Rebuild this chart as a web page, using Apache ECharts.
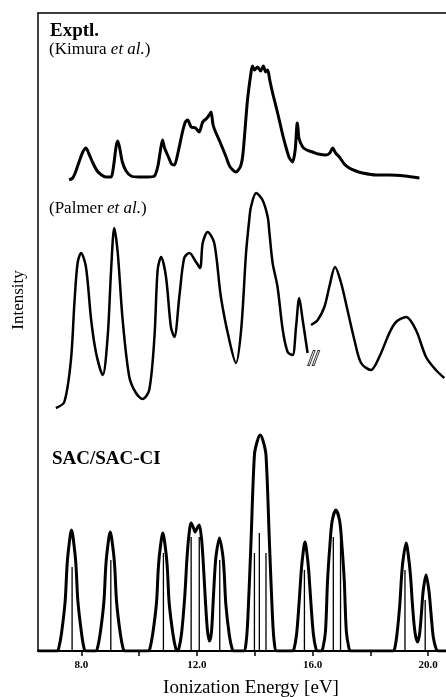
<!DOCTYPE html>
<html><head><meta charset="utf-8">
<script src="https://cdn.jsdelivr.net/npm/echarts@6/dist/echarts.min.js"></script>
<style>html,body{margin:0;padding:0;background:#fff}#c{width:446px;height:697px}</style>
</head><body><div id="c"></div>
<script>
// Ionization energy (eV) vs intensity (arbitrary units)
const kimura = [[7.58,0],[7.70,2],[7.80,8],[7.92,18],[8.05,28],[8.16,32],[8.25,27],[8.40,17],[8.55,9],[8.70,5],[8.85,3],[9.03,3],[9.12,15],[9.20,33],[9.26,39],[9.32,33],[9.42,18],[9.55,9],[9.72,4],[10.0,3],[10.30,3],[10.53,4],[10.65,14],[10.75,32],[10.81,40],[10.88,32],[11.00,24],[11.12,16],[11.22,15],[11.35,28],[11.50,48],[11.60,58],[11.68,60],[11.80,53],[11.95,52],[12.08,48],[12.20,58],[12.35,62],[12.45,66],[12.49,68],[12.56,55],[12.66,47],[12.80,38],[13.01,23],[13.15,13],[13.35,8],[13.50,13],[13.58,23],[13.65,45],[13.75,80],[13.87,107],[13.92,114],[13.99,110],[14.10,113],[14.20,109],[14.30,114],[14.38,108],[14.45,110],[14.52,100],[14.62,87],[14.75,72],[14.85,60],[14.97,45],[15.08,33],[15.20,22],[15.31,18],[15.40,30],[15.46,55],[15.48,57],[15.53,42],[15.66,33],[15.80,30],[16.00,28],[16.20,26],[16.47,25],[16.60,27],[16.70,32],[16.80,27],[16.93,23],[17.10,16],[17.27,12],[17.50,9],[17.73,7],[18.20,5],[18.66,5],[19.20,4],[19.70,2]];

const palmerA = [[7.12,2],[7.41,8],[7.64,50],[7.76,107],[7.87,147],[7.99,157],[8.16,143],[8.34,90],[8.51,57],[8.74,35],[8.91,73],[9.03,140],[9.14,182],[9.26,157],[9.43,90],[9.66,33],[9.89,17],[10.12,11],[10.35,20],[10.53,73],[10.64,140],[10.76,153],[10.93,133],[11.10,83],[11.22,73],[11.39,113],[11.56,152],[11.74,157],[11.97,148],[12.11,142],[12.20,167],[12.37,178],[12.60,167],[12.83,113],[13.12,70],[13.35,47],[13.53,80],[13.70,157],[13.81,190],[13.87,203],[14.05,217],[14.27,210],[14.45,193],[14.51,177],[14.62,147],[14.79,123],[14.97,80],[15.14,58],[15.31,55],[15.43,83],[15.54,112],[15.66,90],[15.83,57]];
const palmerB = [[15.95,85],[16.18,90],[16.41,103],[16.58,123],[16.78,143],[16.99,127],[17.21,100],[17.45,70],[17.68,47],[18.02,40],[18.31,53],[18.66,77],[18.89,88],[19.24,93],[19.58,80],[19.93,53],[20.27,40],[20.56,32]];
const palmerBreak = [[16.04,52]];

const sacEnvelope = [[6.5,0],[7.16,0],[7.21,2],[7.31,17],[7.44,50],[7.50,83],[7.55,100],[7.66,121],[7.77,100],[7.82,83],[7.88,50],[8.01,17],[8.10,2],[8.16,0],
[8.50,0],[8.55,2],[8.65,17],[8.78,49],[8.84,82],[8.89,99],[9.00,119],[9.11,99],[9.16,82],[9.22,49],[9.35,17],[9.45,2],[9.50,0],
[10.32,0],[10.37,2],[10.47,17],[10.60,48],[10.66,81],[10.71,98],[10.82,118],[10.93,98],[10.98,81],[11.04,48],[11.17,17],[11.27,2],
[11.32,0],[11.38,3],[11.47,18],[11.58,55],[11.65,90],[11.71,112],[11.80,128],[11.87,124],[11.94,119],[12.01,123],[12.08,126],[12.16,112],[12.22,88],[12.29,52],[12.36,22],[12.43,10],[12.50,18],[12.56,48],[12.62,80],[12.67,97],[12.78,113],[12.89,97],[12.94,80],[13.00,47],[13.12,16],[13.22,2],[13.28,0],
[13.62,0],[13.70,8],[13.76,31],[13.87,108],[13.99,196],[14.09,210],[14.19,216],[14.29,210],[14.39,196],[14.51,108],[14.62,31],[14.68,8],[14.76,0],
[15.30,0],[15.36,2],[15.45,17],[15.54,50],[15.60,76],[15.65,92],[15.74,109],[15.83,92],[15.88,76],[15.94,50],[16.03,17],[16.12,2],[16.18,0],
[16.30,0],[16.36,3],[16.45,20],[16.52,70],[16.60,105],[16.68,130],[16.81,141],[16.94,130],[17.02,105],[17.10,70],[17.17,20],[17.26,3],[17.32,0],
[18.78,0],[18.84,2],[18.92,16],[19.02,46],[19.08,74],[19.13,90],[19.24,108],[19.34,90],[19.40,72],[19.47,42],[19.55,18],[19.64,9],[19.71,18],[19.77,38],[19.83,60],[19.93,76],[20.03,60],[20.10,38],[20.18,14],[20.28,2],[20.36,0],[20.62,0]];

const sacSticks = [[7.68,84],[9.02,91],[10.84,98],[11.80,114],[12.08,114],[12.79,91],[13.99,98],[14.16,118],[14.39,98],[15.72,81],[16.72,114],[16.97,114],[19.20,81],[19.90,51]];

const xTicks = [8,10,12,14,16,18,20];
const xLabels = [8,12,16,20];

const SERIF = '"Liberation Serif","DejaVu Serif",serif';
const chart = echarts.init(document.getElementById('c'), null, {renderer:'canvas'});
const L = 38, XMIN = 6.5, XMAX = 20.62;
const hiddenX = g => ({type:'value', gridIndex:g, min:XMIN, max:XMAX, show:false});
const hiddenY = (g,max) => ({type:'value', gridIndex:g, min:0, max:max, show:false});
const lineStyle = w => ({color:'#000', width:w});
const gridBase = {left:L, right:0, outerBoundsMode:'none', containLabel:false};

chart.setOption({
  animation:false,
  backgroundColor:'#fff',
  grid:[
    Object.assign({top:13, bottom:46}, gridBase),
    Object.assign({top:60, bottom:697-180}, gridBase),
    Object.assign({top:190, bottom:697-410}, gridBase),
    Object.assign({top:420, bottom:46}, gridBase)
  ],
  xAxis:[
    {type:'value', gridIndex:0, min:XMIN, max:XMAX, position:'bottom',
     axisLine:{show:true, lineStyle:{color:'#000', width:2}},
     axisTick:{show:true, customValues:xTicks, length:5, inside:false, lineStyle:{color:'#000', width:1.5}},
     axisLabel:{show:true, customValues:xLabels, margin:9, color:'#000', fontFamily:SERIF, fontWeight:'bold', fontSize:11,
                formatter:v => v.toFixed(1)},
     splitLine:{show:false}},
    {type:'value', gridIndex:0, min:XMIN, max:XMAX, position:'top',
     axisLine:{show:true, lineStyle:{color:'#000', width:1.5}},
     axisTick:{show:false}, axisLabel:{show:false}, splitLine:{show:false}},
    hiddenX(1), hiddenX(2), hiddenX(3)
  ],
  yAxis:[
    {type:'value', gridIndex:0, min:0, max:1, position:'left',
     axisLine:{show:true, lineStyle:{color:'#000', width:1.5}},
     axisTick:{show:false}, axisLabel:{show:false}, splitLine:{show:false}},
    hiddenY(1,120), hiddenY(2,220), hiddenY(3,231)
  ],
  series:[
    {type:'line', xAxisIndex:2, yAxisIndex:1, data:kimura, smooth:0.25, symbol:'none', lineStyle:lineStyle(3)},
    {type:'line', xAxisIndex:3, yAxisIndex:2, data:palmerA, smooth:0.3, symbol:'none', lineStyle:lineStyle(2.5)},
    {type:'line', xAxisIndex:3, yAxisIndex:2, data:palmerB, smooth:0.3, symbol:'none', lineStyle:lineStyle(2.5)},
    {type:'scatter', xAxisIndex:3, yAxisIndex:2, data:palmerBreak,
     symbol:'path://M0,16 L6,0 L8,0 L2,16 Z M5,16 L11,0 L13,0 L7,16 Z', symbolSize:[12,15],
     itemStyle:{color:'#fff', borderColor:'#000', borderWidth:1}},
    {type:'bar', xAxisIndex:4, yAxisIndex:3, data:sacSticks, barWidth:1.3, itemStyle:{color:'#000'}, z:1},
    {type:'line', xAxisIndex:4, yAxisIndex:3, data:sacEnvelope, smooth:0.3, symbol:'none', lineStyle:lineStyle(3), z:2}
  ],
  graphic:[
    {type:'text', left:50, top:22, style:{text:'Exptl.', font:'bold 19px '+SERIF, fill:'#000'}},
    {type:'text', left:49, top:41, style:{text:'{n|(Kimura }{i|et al.}{n|)}', fill:'#000',
      rich:{n:{font:'17px '+SERIF, fill:'#000'}, i:{font:'italic 17px '+SERIF, fill:'#000'}}}},
    {type:'text', left:49, top:200, style:{text:'{n|(Palmer }{i|et al.}{n|)}', fill:'#000',
      rich:{n:{font:'17px '+SERIF, fill:'#000'}, i:{font:'italic 17px '+SERIF, fill:'#000'}}}},
    {type:'text', left:52, top:450, style:{text:'SAC/SAC-CI', font:'bold 19px '+SERIF, fill:'#000'}},
    {type:'text', x:251, y:688, style:{text:'Ionization Energy [eV]', font:'19px '+SERIF, fill:'#000', align:'center', verticalAlign:'middle'}},
    {type:'text', x:19, y:300, rotation:Math.PI/2, style:{text:'Intensity', font:'17px '+SERIF, fill:'#000', align:'center', verticalAlign:'middle'}}
  ]
});
</script></body></html>
